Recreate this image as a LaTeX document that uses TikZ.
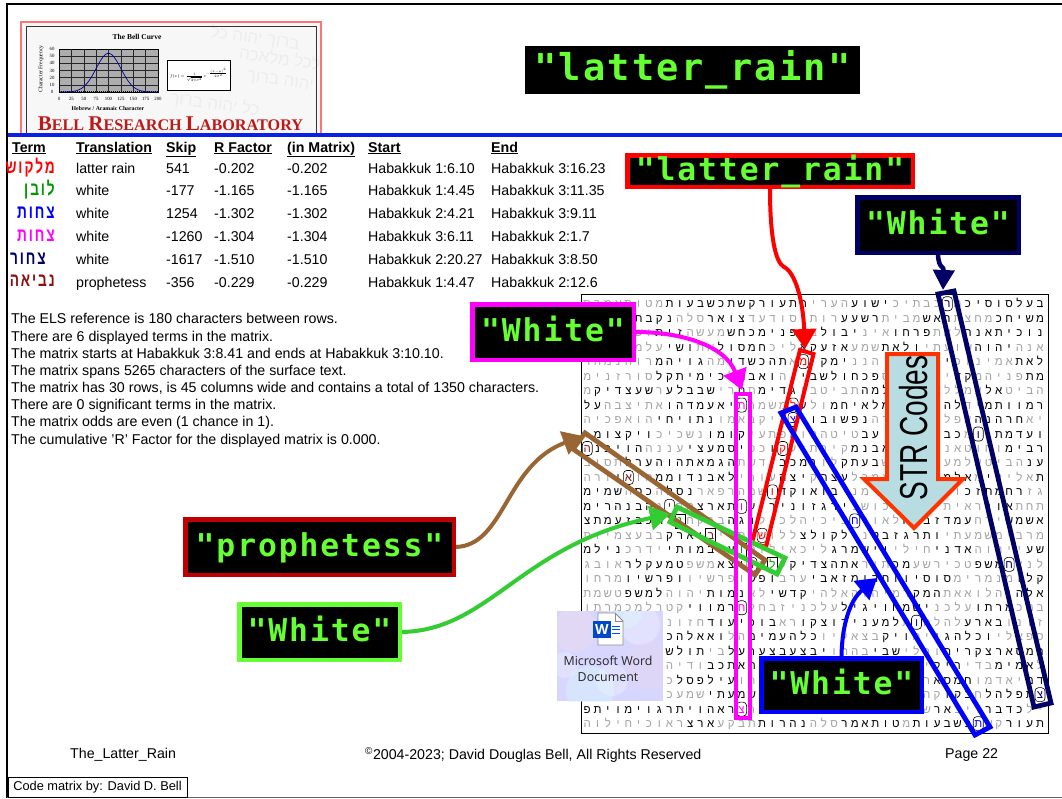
\documentclass[tikz,border=0pt]{standalone}
\usepackage{fontspec}
\usetikzlibrary{arrows.meta}
\setmainfont{Liberation Sans}
\newfontfamily\tagfont[LetterSpace=6]{DejaVu Sans Mono}
\newfontfamily\logofont{Liberation Serif}
\newfontfamily\iconfont{Open Sans}
\newfontfamily\hebfont[Script=Hebrew]{Liberation Sans}
\newfontfamily\termfont[Script=Hebrew,LetterSpace=14]{Liberation Sans}
\TeXXeTstate=1
\newcommand\pxfont[1]{\fontsize{#1}{#1}\selectfont}
\newcommand\termword[1]{\scalebox{.72}[1]{\beginR #1\endR}}
\definecolor{tagtext}{HTML}{66FF33}
\definecolor{tagred}{HTML}{FF0000}
\definecolor{tagnavy}{HTML}{000066}
\definecolor{tagmagenta}{HTML}{FF00FF}
\definecolor{tagblue}{HTML}{0000FF}
\definecolor{tagdark}{HTML}{C00000}
\definecolor{taglime}{HTML}{66FF33}
\definecolor{linegreen}{HTML}{33CC33}
\definecolor{linebrown}{HTML}{996633}
\definecolor{matgray}{HTML}{A2A2A2}
\definecolor{rulecol}{HTML}{0A20E8}
\definecolor{strfill}{HTML}{B7DDE3}
\definecolor{strline}{HTML}{FF3300}
\definecolor{logored}{HTML}{C01818}
\definecolor{termdark}{HTML}{8B1010}
\tikzset{
  tagbox/.style={fill=black,draw=#1,line width=4.5pt,text=tagtext,inner sep=0pt,
    font=\tagfont\bfseries\pxfont{31.4},text height=23pt,text depth=4pt},
  plain/.style={anchor=west,inner sep=0pt,font=\pxfont{14.2},text height=10.5pt,text depth=1.5pt},
  headcell/.style={plain,font=\bfseries\pxfont{14.2}},
  foot/.style={anchor=west,inner sep=0pt,font=\pxfont{14.2}},
  termcell/.style={anchor=east,inner sep=0pt,font=\termfont\bfseries\pxfont{19}},
  cell/.style={inner sep=0pt,font=\hebfont\pxfont{11.5},text height=8pt,text depth=0pt},
  circled/.style={inner sep=0pt,draw=black,line width=.6pt,fill=white,rounded corners=3.5pt,
    minimum width=10pt,minimum height=14pt,font=\hebfont\pxfont{11.5},text height=8pt,text depth=0pt,text=#1},
  termline/.style={draw=#1,line width=4.8pt,line join=miter},
  tagarrow/.style={draw=#1,line width=4pt,-{Triangle[length=20pt,width=24pt]}},
  tiny/.style={inner sep=0pt,font=\logofont\pxfont{4.8}},
  water/.style={inner sep=0pt,font=\hebfont\pxfont{17},text=black!7}
}
\newcount\colnum
\newif\ifdarkcell
\def\rowwalk#1{\ifx#1\relax\else
  \global\advance\colnum by 1
  \global\darkcellfalse
  \foreach \da/\db in \rowdark {\ifnum\colnum<\da\else\ifnum\colnum>\db\else\global\darkcelltrue\fi\fi}
  \ifdarkcell\def\cellclr{black}\else\def\cellclr{matgray}\fi
  \node[cell,text=\cellclr] (l\rowno-\the\colnum) at ({1040-(\colnum-1)*10.29},\rowy) {#1};
  \expandafter\rowwalk\fi}
\newcommand\matrixrow[3]{\def\rowno{#1}\pgfmathsetmacro\rowy{303.7+(#1-1)*14.48}\def\rowdark{#3}\global\colnum=0 \rowwalk#2\relax}
\newcommand\cellmark[5][]{\node[circled=#5,#1] (m#2-#3) at ({1040-(#3-1)*10.29},{303.7+(#2-1)*14.48}) {#4};}
\begin{document}
\begin{tikzpicture}[x=1pt,y=-1pt]
\useasboundingbox (0,0) rectangle (1062,798);
\fill[white] (0,0) rectangle (1062,798);
% frame
\draw[line width=2.5pt] (7,798) -- (7,4) -- (1062,4);
\draw[black!60,line width=1pt] (7,797.5) -- (1062,797.5);
% logo
\fill[black!3] (21,22) rectangle (321,134);
\node[water,rotate=-8] (wm1) at (255,38) {\beginR ברוך יהוה כל\endR};
\node[water,rotate=-8] (wm2) at (280,58) {\beginR לכל מלאכה\endR};
\node[water,rotate=-8] (wm3) at (280,82) {\beginR יהוה ברוך\endR};
\node[water,rotate=-8] (wm4) at (215,104) {\beginR כל יהוה ברוך\endR};
\draw[red!55,line width=1.5pt] (21,134) -- (21,22) -- (321,22) -- (321,134);
\draw[black!80,line width=1pt] (26,134) -- (26,26) -- (316,26) -- (316,134);
\node[tiny,font=\logofont\bfseries\pxfont{7.5}] (bellhead) at (137,37) {The Bell Curve};
\fill[black!32] (59,49) rectangle (158,92);
\draw[black,line width=.7pt] (59,49) rectangle (158,92);
\draw[black!85,line width=.6pt] (71.4,49) -- (71.4,92) (83.8,49) -- (83.8,92) (96.1,49) -- (96.1,92) (108.5,49) -- (108.5,92) (120.9,49) -- (120.9,92) (133.3,49) -- (133.3,92) (145.6,49) -- (145.6,92);
\draw[black!85,line width=.6pt] (59,56.2) -- (158,56.2) (59,63.3) -- (158,63.3) (59,70.5) -- (158,70.5) (59,77.7) -- (158,77.7) (59,84.8) -- (158,84.8);
\draw[black,line width=1.4pt,dash pattern=on .6pt off 1.4pt] (59,91.5) -- (158,91.5) (59.5,49) -- (59.5,92);
\draw[blue!60!black,line width=.7pt,domain=0:200,samples=50,smooth] plot ({59+.495*\x},{92-38.7*exp(-(\x-100)*(\x-100)/1250)});
\node[tiny] (yt60) at (52,49) {60};
\node[tiny] (yt50) at (52,56.2) {50};
\node[tiny] (yt40) at (52,63.3) {40};
\node[tiny] (yt30) at (52,70.5) {30};
\node[tiny] (yt20) at (52,77.7) {20};
\node[tiny] (yt10) at (52,84.8) {10};
\node[tiny] (yt0) at (52,92) {0};
\node[tiny] (xt0) at (59,99) {0};
\node[tiny] (xt25) at (71.4,99) {25};
\node[tiny] (xt50) at (83.8,99) {50};
\node[tiny] (xt75) at (96.1,99) {75};
\node[tiny] (xt100) at (108.5,99) {100};
\node[tiny] (xt125) at (120.9,99) {125};
\node[tiny] (xt150) at (133.3,99) {150};
\node[tiny] (xt175) at (145.6,99) {175};
\node[tiny] (xt200) at (158,99) {200};
\node[tiny,font=\logofont\pxfont{5.6},rotate=90] (ylabel) at (41,69) {Character Frequency};
\node[tiny,font=\logofont\bfseries\pxfont{5.8}] (xlabel) at (108,109) {Hebrew / Aramaic Character};
\node[draw=black,fill=white,line width=.8pt,inner sep=0pt,minimum width=63pt,minimum height=30pt,font=\pxfont{6.5}] (formula) at (198.5,75) {\scalebox{.68}{$f(x)=\frac{1}{\sqrt{2\pi\sigma^2}}\,e^{-\frac{(x-\mu)^2}{2\sigma^2}}$}};
\node[inner sep=0pt,text=logored,font=\logofont\bfseries\pxfont{16.2}] (logotext) at (170.5,124) {{\pxfont{21}B}ELL {\pxfont{21}R}ESEARCH {\pxfont{21}L}ABORATORY};
% rule and title
\draw[rulecol,line width=4pt] (8,135) -- (1062,135);
\node[fill=black,text=tagtext,inner sep=0pt,minimum width=335pt,minimum height=48pt,font=\tagfont\bfseries\pxfont{37}] (title) at (692.5,70) {"latter\_rain"};
% table
\node[headcell] (hterm) at (12,147.5) {\underline{Term}};
\node[headcell] (htrans) at (76,147.5) {\underline{Translation}};
\node[headcell] (hskip) at (166,147.5) {\underline{Skip}};
\node[headcell] (hrf) at (214,147.5) {\underline{R Factor}};
\node[headcell] (hin) at (287,147.5) {\underline{(in Matrix)}};
\node[headcell] (hstart) at (368,147.5) {\underline{Start}};
\node[headcell] (hend) at (491,147.5) {\underline{End}};
\node[termcell,text=red] (term1) at (55,168) {\termword{מלקוש}};
\node[plain] (tr1) at (76,169) {latter rain};
\node[plain] (sk1) at (166,169) {541};
\node[plain] (rf1) at (214,169) {-0.202};
\node[plain] (in1) at (287,169) {-0.202};
\node[plain] (st1) at (368,169) {Habakkuk 1:6.10};
\node[plain] (en1) at (491,169) {Habakkuk 3:16.23};
\node[termcell,text=green!60!black] (term2) at (55,190) {\termword{לובן}};
\node[plain] (tr2) at (76,191) {white};
\node[plain] (sk2) at (166,191) {-177};
\node[plain] (rf2) at (214,191) {-1.165};
\node[plain] (in2) at (287,191) {-1.165};
\node[plain] (st2) at (368,191) {Habakkuk 1:4.45};
\node[plain] (en2) at (491,191) {Habakkuk 3:11.35};
\node[termcell,text=tagblue] (term3) at (55,213) {\termword{צחות}};
\node[plain] (tr3) at (76,214) {white};
\node[plain] (sk3) at (166,214) {1254};
\node[plain] (rf3) at (214,214) {-1.302};
\node[plain] (in3) at (287,214) {-1.302};
\node[plain] (st3) at (368,214) {Habakkuk 2:4.21};
\node[plain] (en3) at (491,214) {Habakkuk 3:9.11};
\node[termcell,text=tagmagenta] (term4) at (55,236) {\termword{צחות}};
\node[plain] (tr4) at (76,237) {white};
\node[plain] (sk4) at (166,237) {-1260};
\node[plain] (rf4) at (214,237) {-1.304};
\node[plain] (in4) at (287,237) {-1.304};
\node[plain] (st4) at (368,237) {Habakkuk 3:6.11};
\node[plain] (en4) at (491,237) {Habakkuk 2:1.7};
\node[termcell,text=tagnavy] (term5) at (46,259) {\termword{צחור}};
\node[plain] (tr5) at (76,259.5) {white};
\node[plain] (sk5) at (166,259.5) {-1617};
\node[plain] (rf5) at (214,259.5) {-1.510};
\node[plain] (in5) at (287,259.5) {-1.510};
\node[plain] (st5) at (368,259.5) {Habakkuk 2:20.27};
\node[plain] (en5) at (491,259.5) {Habakkuk 3:8.50};
\node[termcell,text=termdark] (term6) at (55,281) {\termword{נביאה}};
\node[plain] (tr6) at (76,282.5) {prophetess};
\node[plain] (sk6) at (166,282.5) {-356};
\node[plain] (rf6) at (214,282.5) {-0.229};
\node[plain] (in6) at (287,282.5) {-0.229};
\node[plain] (st6) at (368,282.5) {Habakkuk 1:4.47};
\node[plain] (en6) at (491,282.5) {Habakkuk 2:12.6};
% notes
\node[plain] (note1) at (11,319) {The ELS reference is 180 characters between rows.};
\node[plain] (note2) at (11,336.5) {There are 6 displayed terms in the matrix.};
\node[plain] (note3) at (11,353.5) {The matrix starts at Habakkuk 3:8.41 and ends at Habakkuk 3:10.10.};
\node[plain] (note4) at (11,370.5) {The matrix spans 5265 characters of the surface text.};
\node[plain] (note5) at (11,388) {The matrix has 30 rows, is 45 columns wide and contains a total of 1350 characters.};
\node[plain] (note6) at (11,405) {There are 0 significant terms in the matrix.};
\node[plain] (note7) at (11,422) {The matrix odds are even (1 chance in 1).};
\node[plain] (note8) at (11,439.5) {The cumulative 'R' Factor for the displayed matrix is 0.000.};
% matrix
\draw[line width=1pt] (581,294) rectangle (1048,733);
\matrixrow{1}{בעלסוסיכמרכבתיכישועהעריהתעורקשתכשבעותמטותאמרס}{1/8,16/19,24/37}
\matrixrow{2}{משיחכמחצתראשמביתרשעערותיסודעדצוארסלהנקבתבמטיו}{1/5,10/12,17/20,30/33,37/40}
\matrixrow{3}{נוכיתאנהלאתפרחואיניבולבגפנימכחשמעשהזיתושדמותל}{1/8,12/15,19/22,25/31,36/38}
\matrixrow{4}{אנהיהוהשועתיולאתשמעאזעקאליכחמסולאתושיעלמהתראנ}{4/7,13/16,20/24,28/32,35/37}
\matrixrow{5}{לאתאמינוכייספרכיהננימקימאתהכשדימהגויהמרוהנמהר}{1/3,10/11,20/23,26/31,34/38}
\matrixrow{6}{מתפניהמקדימהויאספכחולשביוהואבמלכימיתקלסורזנימ}{1/2,8/9,17/24,27/30,32/38}
\matrixrow{7}{הביטאלעמללאתוכללמהתביטבוגדימתחרישבבלערשעצדיקמ}{5/6,16/18,24/28,30/30,33/37,39/44}
\matrixrow{8}{רמוותמידלהרגגוימלאיחמולעלמשמרתיאעמדהואתיצבהעל}{1/7,9/11,16/21,24/25,31/37,44/45}
\matrixrow{9}{יאחרהנהעפלהלאישרהנפשובווצדיקבאמונתויחיהואפכיה}{3/7,18/23,33/38}
\matrixrow{10}{ועדמתיומכבידעליועבטיטהלואפתעיקומונשכיכויקצומז}{1/6,9/11,17/18,29/33,39/44}
\matrixrow{11}{רבימוחוטאנפשככיאבנמקירתזעקוכפיסמעציעננההויבנה}{1/4,15/19,26/27,30/35,40/44}
\matrixrow{12}{ענהביטעלמעוריהמשבעתקלונמכבודשתהגמאתהוהערלתסוב}{1/2,14/15,17/20,23/27,31/41}
\matrixrow{13}{תאלילימאלמימהויאמרלעצהקיצהעורילאבנדוממהואיורה}{1/1,6/6,8/11,20/22,24/26,31/38,42/42}
\matrixrow{14}{גזרחמתזכוראלוהמתימניבואוקדושמהרפארנסלהכסהשמימ}{3/8,15/16,21/27,35/37,39/40,42/45}
\matrixrow{15}{תחתאונראיתיאהליכושנירגזוניריעותארצמדינהבנהרימ}{4/6,20/27,29/34,39/45}
\matrixrow{16}{אשמשירחעמדזבלהלאורחציכיהלכולנגהברקחניתכבזעמתצ}{1/4,8/14,19/19,29/31,38/45}
\matrixrow{17}{מרבימשמעתיותרגזבטנילקולצללושפתייבוארקבבעצמיות}{11/17,20/24,33/37}
\matrixrow{18}{שעייהוהאדניחיליוישמרגליכאילותועלבמותיידרכנילמ}{1/2,8/11,16/21,30/37,42/45}
\matrixrow{19}{לנצחמשפטכירשעמכתיראתהצדיקעלכניצאמשפטמעקלראובג}{5/7,14/15,19/25,29/32,36/41}
\matrixrow{20}{קלומנמרימסוסיווחדומזאביערבופשופרשיוופרשיומרחו}{1/3,10/23,27/29,36/41}
\matrixrow{21}{אלהוהלואאתהמקדמיהוהאלהיקדשילאנמותיהוהלמשפטשמת}{1/4,11/13,24/27,30/33,38/41}
\matrixrow{22}{במכמרתועלכנישמחויגילעלכניזבחלחרמוויקטרלמכמרתו}{4/7,12/20,30/35}
\matrixrow{23}{זונובארעלהלחותלמענירוצקוראבוכיעודחזונלמועדויפ}{5/8,15/24,27/33}
\matrixrow{24}{ספאליוכלהגוימויקבצאליוכלהעמימהלואאלהכלמעליומש}{6/11,14/16,23/29,32/37}
\matrixrow{25}{חמסארצקריהוכלישביבההויבצעבצערעלביתולשומבמרומק}{1/10,15/17,22/31,34/38}
\matrixrow{26}{לאמימבדיריקיעפוכיתמלאהארצלדעתאתכבודיהוהכמימיכ}{2/5,9/11,19/22,29/33}
\matrixrow{27}{דמיאדמוחמסארצקריהוכלישביבהמההועילפסלכיפסלויצר}{1/2,8/11,17/20,31/36}
\matrixrow{28}{צתפלהלחבקוקהנביאעלשגינותיהוהשמעתישמעכיראתייהו}{2/6,8/10,25/33}
\matrixrow{29}{ילכדברויצארשפלרגליועמדוימדדארצראהויתרגוימויתפ}{3/6,10/11,14/15,31/45}
\matrixrow{30}{תעורקשתכשבעותמטותאמרסלהנהרותתבקעארצראוכיחילוה}{1/4,8/13,15/20,24/28,33/35}
% marked letters
\cellmark{5}{24}{מ}{tagred}
\cellmark{8}{25}{ל}{tagred}
\cellmark{11}{26}{ק}{tagred}
\cellmark{14}{27}{ו}{tagred}
\cellmark{17}{28}{ש}{tagred}
\cellmark[sharp corners]{19}{27}{ל}{green!60!black}
\cellmark[sharp corners]{18}{30}{ו}{green!60!black}
\cellmark[sharp corners]{16}{36}{נ}{green!60!black}
\cellmark{9}{25}{צ}{tagblue}
\cellmark{16}{19}{ח}{tagblue}
\cellmark{23}{13}{ו}{tagblue}
\cellmark{30}{7}{ת}{tagblue}
\cellmark{8}{30}{ת}{tagmagenta}
\cellmark{15}{30}{ו}{tagmagenta}
\cellmark{22}{30}{ח}{tagmagenta}
\cellmark{29}{30}{צ}{tagmagenta}
\cellmark{1}{10}{ר}{tagnavy}
\cellmark{10}{7}{ו}{tagnavy}
\cellmark{19}{4}{ח}{tagnavy}
\cellmark{28}{1}{צ}{tagnavy}
\cellmark{11}{45}{ה}{termdark}
\cellmark{13}{41}{א}{termdark}
\cellmark{15}{37}{י}{termdark}
\cellmark[sharp corners]{17}{33}{ב}{termdark}
\cellmark{19}{29}{נ}{termdark}
% word icon
\fill[blue!16] (557,611) rectangle (663,701);
\begin{scope}
\clip (557,611) rectangle (663,701);
\fill[violet!14,opacity=.5] (575,630) circle (22);
\fill[white,opacity=.3] (640,625) circle (20);
\fill[violet!16,opacity=.4] (650,665) circle (24);
\fill[cyan!16,opacity=.5] (590,690) circle (24);
\fill[white,opacity=.25] (612,680) circle (16);
\fill[cyan!14,opacity=.5] (625,610) circle (18);
\fill[white,opacity=.25] (565,665) circle (13);
\end{scope}
\fill[white,draw=black!45,line width=.8pt] (598,613) -- (615,613) -- (623,621) -- (623,645) -- (598,645) -- cycle;
\draw[black!45,line width=.8pt] (615,613) -- (615,621) -- (623,621);
\draw[blue!70!cyan,line width=1pt] (612,626) -- (620,626) (612,629.5) -- (620,629.5) (612,633) -- (620,633);
\node[fill=blue!65!cyan!80!black,text=white,inner sep=0pt,minimum width=18pt,minimum height=17pt,font=\iconfont\bfseries\pxfont{14}] (wordw) at (602,629) {W};
\node[inner sep=0pt,text=black!85,font=\iconfont\pxfont{12.4}] (wordtxt1) at (608,660.5) {Microsoft Word};
\node[inner sep=0pt,text=black!85,font=\iconfont\pxfont{12.4}] (wordtxt2) at (608,677) {Document};
% term outlines
\draw[termline=tagred,line width=4pt] (800,350) -- (813.5,354) -- (766,547) -- (752,543) -- cycle;
\draw[termline=linebrown] (585,433) -- (573,449) -- (755,575) -- (765,560) -- cycle;
\draw[termline=linegreen] (677,507) -- (670,522) -- (777,574) -- (785,558) -- cycle;
\draw[termline=tagmagenta] (736,394) rectangle (750,718);
\draw[termline=tagblue] (781,413) -- (796,407) -- (990,727) -- (975,735) -- cycle;
\draw[termline=tagnavy] (938,294) -- (954,291) -- (1051,703) -- (1034,707) -- cycle;
% STR arrow
\draw[fill=strfill,draw=strline,line width=4pt,line join=miter] (887,354) -- (938,354) -- (938,479) -- (963,479) -- (914,528) -- (864,479) -- (887,479) -- cycle;
\node[inner sep=0pt,rotate=90,font=\pxfont{39}] (strtext) at (914,428) {\scalebox{.72}[1]{STR Codes}};
% tags
\node[tagbox=tagred,minimum width=285.5pt,minimum height=31.5pt] (rainbox) at (770,171) {"latter\_rain"};
\node[tagbox=tagnavy,minimum width=161.5pt,minimum height=55.5pt] (navybox) at (938,225) {"White"};
\node[tagbox=tagmagenta,minimum width=161.5pt,minimum height=55.5pt] (magbox) at (553,332) {"White"};
\node[tagbox=tagdark,minimum width=268.5pt,minimum height=55.5pt] (probox) at (319.5,547) {"prophetess"};
\node[tagbox=taglime,minimum width=160.5pt,minimum height=55.5pt] (limebox) at (319.5,632) {"White"};
\node[tagbox=tagblue,minimum width=160.5pt,minimum height=53.5pt] (bluebox) at (841.5,685) {"White"};
% arrows
\coordinate (redtip) at (805,349);
\coordinate (navytip) at (943,290);
\coordinate (magtip) at (742,390);
\coordinate (browntip) at (583,436);
\coordinate (greentip) at (670,514);
\coordinate (bluetip) at (877,578);
\draw[tagarrow=tagred] (rainbox.south) .. controls (770,235) and (775,262) .. (784,267) .. controls (795,272) and (803,300) .. (redtip);
\draw[tagarrow=tagnavy,line width=4.5pt,-{Triangle[length=20pt,width=21pt]}] (navybox.south) .. controls (939,270) and (944,265) .. (navytip);
\draw[tagarrow=tagmagenta] (magbox.east) .. controls (680,332) and (725,345) .. (magtip);
\draw[tagarrow=linebrown] (probox.east) .. controls (505,545) and (505,465) .. (browntip);
\draw[tagarrow=linegreen] (limebox.east) .. controls (490,630) and (520,545) .. (greentip);
\draw[tagarrow=tagblue] (bluebox.north) .. controls (842,625) and (850,600) .. (bluetip);
% footer
\node[foot] (footname) at (70,755) {The\_Latter\_Rain};
\node[foot] (footcopy) at (365,755) {\textsuperscript{©}2004-2023; David Douglas Bell, All Rights Reserved};
\node[foot] (footpage) at (945,755) {Page 22};
\node[draw=black,line width=1pt,inner sep=0pt,minimum width=179pt,minimum height=20pt,font=\pxfont{12.8}] (credit) at (97.5,787.5) {Code matrix by: David D. Bell};
\end{tikzpicture}
\end{document}
